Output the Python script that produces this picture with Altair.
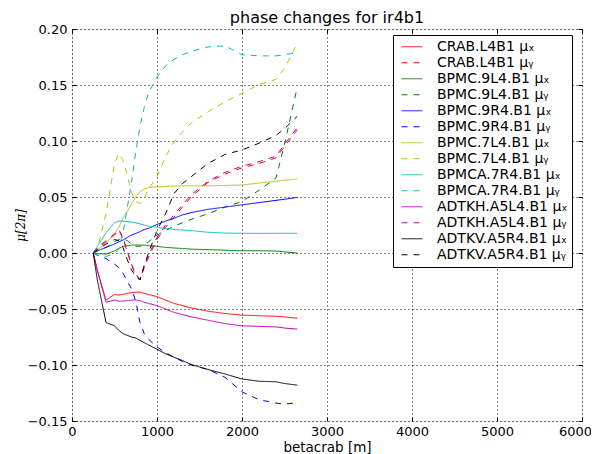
import altair as alt
import pandas as pd

# ---- data ----
X = [250, 300, 400, 500, 550, 600, 650, 700, 750, 800, 850, 900, 1000, 1100,
     1200, 1300, 1400, 1600, 1800, 2000, 2200, 2400, 2500, 2650]

crab_x = [0, -0.016, -0.042, -0.037, -0.0375, -0.037, -0.036, -0.0355, -0.035, -0.035, -0.036, -0.037,
          -0.039, -0.042, -0.045, -0.047, -0.049, -0.052, -0.054, -0.0555, -0.056, -0.0565, -0.057, -0.0583]
crab_y = [0, 0.004, 0.01, 0.016, 0.02, 0.013, 0.001, -0.011, -0.02, -0.024, -0.013, -0.004,
          0.012, 0.023, 0.032, 0.041, 0.05, 0.063, 0.0705, 0.076, 0.08, 0.085, 0.095, 0.11]
bpmc9l4_x = [0, -0.0005, -0.001, 0.002, 0.004, 0.006, 0.0065, 0.007, 0.0072, 0.0071, 0.007, 0.0065,
             0.006, 0.005, 0.0045, 0.004, 0.0035, 0.003, 0.0025, 0.002, 0.002, 0.0018, 0.001, 0.0]
bpmc9l4_y = [0, 0.002, 0.005, 0.01, 0.012, 0.013, 0.011, 0.008, 0.006, 0.006, 0.007, 0.01,
             0.016, 0.02, 0.024, 0.027, 0.03, 0.035, 0.041, 0.046, 0.056, 0.067, 0.097, 0.148]
bpmc9r4_x = [0, 0.002, 0.005, 0.008, 0.010, 0.0115, 0.014, 0.016, 0.0175, 0.019, 0.021, 0.022,
             0.0255, 0.0285, 0.031, 0.034, 0.036, 0.039, 0.041, 0.043, 0.045, 0.047, 0.048, 0.0497]
bpmc9r4_y = [0, -0.002, -0.005, -0.01, -0.013, -0.018, -0.025, -0.032, -0.043, -0.062, -0.072, -0.077,
             -0.084, -0.089, -0.093, -0.097, -0.1, -0.104, -0.111, -0.124, -0.131, -0.134, -0.135, -0.1336]
bpmc7l4_x = [0, 0.003, 0.009, 0.017, 0.023, 0.031, 0.037, 0.044, 0.05, 0.055, 0.057, 0.0585,
             0.059, 0.0595, 0.0598, 0.06, 0.06, 0.06, 0.0603, 0.0607, 0.0625, 0.064, 0.065, 0.066]
bpmc7l4_y = [0, 0.004, 0.035, 0.08, 0.089, 0.083, 0.07, 0.054, 0.046, 0.044, 0.049, 0.057,
             0.068, 0.086, 0.099, 0.108, 0.116, 0.126, 0.135, 0.1425, 0.1505, 0.155, 0.165, 0.187]
bpmca7r4_x = [0, 0.006, 0.018, 0.027, 0.0285, 0.0285, 0.028, 0.0275, 0.027, 0.026, 0.025, 0.024,
              0.023, 0.022, 0.021, 0.0205, 0.02, 0.0185, 0.0178, 0.0176, 0.0175, 0.0176, 0.0176, 0.0176]
bpmca7r4_y = [0, -0.002, -0.003, -0.001, 0.004, 0.018, 0.04, 0.063, 0.09, 0.113, 0.13, 0.143,
              0.157, 0.167, 0.173, 0.177, 0.18, 0.184, 0.185, 0.177, 0.176, 0.176, 0.177, 0.179]
adtkh_x = [0, -0.016, -0.044, -0.042, -0.043, -0.043, -0.0425, -0.042, -0.042, -0.0425, -0.044, -0.045,
           -0.047, -0.05, -0.053, -0.055, -0.057, -0.06, -0.063, -0.065, -0.0655, -0.066, -0.067, -0.068]
adtkh_y = [0, 0.005, 0.011, 0.017, 0.021, 0.014, 0.002, -0.01, -0.019, -0.0235, -0.012, -0.002,
           0.014, 0.025, 0.034, 0.043, 0.052, 0.064, 0.072, 0.0775, 0.0815, 0.0865, 0.097, 0.112]
adtkv_x = [0, -0.025, -0.062, -0.065, -0.069, -0.072, -0.0735, -0.075, -0.076, -0.078, -0.08, -0.082,
           -0.086, -0.09, -0.093, -0.096, -0.0995, -0.104, -0.108, -0.1125, -0.1145, -0.115, -0.1165, -0.118]
adtkv_y = [0, 0.003, 0.008, 0.012, 0.011, 0.005, -0.006, -0.015, -0.021, -0.024, -0.011, 0.0,
           0.02, 0.035, 0.053, 0.062, 0.068, 0.08, 0.088, 0.092, 0.098, 0.105, 0.111, 0.122]

labels = [
    "CRAB.L4B1 μₓ", "CRAB.L4B1 μᵧ",
    "BPMC.9L4.B1 μₓ", "BPMC.9L4.B1 μᵧ",
    "BPMC.9R4.B1 μₓ", "BPMC.9R4.B1 μᵧ",
    "BPMC.7L4.B1 μₓ", "BPMC.7L4.B1 μᵧ",
    "BPMCA.7R4.B1 μₓ", "BPMCA.7R4.B1 μᵧ",
    "ADTKH.A5L4.B1 μₓ", "ADTKH.A5L4.B1 μᵧ",
    "ADTKV.A5R4.B1 μₓ", "ADTKV.A5R4.B1 μᵧ",
]
series = [crab_x, crab_y, bpmc9l4_x, bpmc9l4_y, bpmc9r4_x, bpmc9r4_y,
          bpmc7l4_x, bpmc7l4_y, bpmca7r4_x, bpmca7r4_y, adtkh_x, adtkh_y, adtkv_x, adtkv_y]
colors = ["#ff0000", "#ff0000", "#008000", "#008000", "#0000ff", "#0000ff",
          "#bfbf00", "#bfbf00", "#00bfbf", "#00bfbf", "#bf00bf", "#bf00bf", "#000000", "#000000"]
dashes = [[1, 0], [6, 6]] * 7

x_ticks = [0, 1000, 2000, 3000, 4000, 5000, 6000]
y_ticks = [-0.15, -0.10, -0.05, 0.0, 0.05, 0.10, 0.15, 0.20]

rows = []
for i, (lab, vals) in enumerate(zip(labels, series)):
    for xv, yv in zip(X, vals):
        rows.append({"series": lab, "order": i, "x": xv, "y": yv})
df = pd.DataFrame(rows)

FONT = "DejaVu Sans"
xscale = alt.Scale(domain=[0, 6000], nice=False)
yscale = alt.Scale(domain=[-0.15, 0.20], nice=False, zero=False)

leg = alt.Legend(
    title=None, orient="none", legendX=321, legendY=6, direction="vertical",
    symbolType="stroke", symbolSize=441, symbolStrokeWidth=1, symbolOffset=4,
    labelFontSize=14, labelFont=FONT, labelOffset=14, labelLimit=0,
    padding=4, rowPadding=0, clipHeight=15.5, strokeColor="black", fillColor="white",
    cornerRadius=0,
)

tick_style = dict(ticks=True, tickSize=4, tickColor="black", tickWidth=1, offset=-4, domain=False)

lines = alt.Chart(df).mark_line(strokeWidth=1, clip=True).encode(
    x=alt.X("x:Q", scale=xscale,
            axis=alt.Axis(values=x_ticks, format="d", title="betacrab [m]", orient="bottom",
                          grid=True, gridDash=[1, 3], gridColor="black", gridOpacity=1,
                          labelPadding=4, labelFlush=False,
                          labelOffset={"condition": {"test": "datum.value == 6000", "value": -7}, "value": 0},
                          labelFontSize=13, labelFont=FONT, labelColor="black",
                          titleFontSize=13.5, titleFont=FONT, titleFontWeight="normal",
                          titleColor="black", titlePadding=2, **tick_style)),
    y=alt.Y("y:Q", scale=yscale,
            axis=alt.Axis(values=y_ticks, title="μ[2π]", orient="left",
                          labelExpr="replace(format(datum.value, '.2f'), '-', '\u2212')",
                          grid=True, gridDash=[1, 3], gridColor="black", gridOpacity=1,
                          labelPadding=5, labelFlush=False,
                          labelFontSize=13, labelFont=FONT, labelColor="black",
                          titleFontSize=12, titleFont="DejaVu Serif", titleFontStyle="italic",
                          titleFontWeight="normal", titleColor="black", titlePadding=0,
                          **tick_style)),
    color=alt.Color("series:N", scale=alt.Scale(domain=labels, range=colors), legend=leg),
    strokeDash=alt.StrokeDash("series:N", scale=alt.Scale(domain=labels, range=dashes), legend=leg),
    order=alt.Order("order:Q"),
)

frame = alt.Chart(df).mark_line(strokeOpacity=0, clip=True).encode(
    x=alt.X("x:Q", scale=xscale,
            axis=alt.Axis(values=x_ticks, orient="top", title=None, labels=False, grid=False,
                          **tick_style)),
    y=alt.Y("y:Q", scale=yscale,
            axis=alt.Axis(values=y_ticks, orient="right", title=None, labels=False, grid=False,
                          **tick_style)),
    detail="series:N",
)

chart = alt.layer(lines, frame).resolve_axis(x="independent", y="independent").properties(
    width=510, height=392,
    title=alt.TitleParams("phase changes for ir4b1", fontSize=16, font=FONT,
                          fontWeight="normal", anchor="middle", color="black",
                          frame="group", offset=4, dy=7),
    padding={"left": 64, "top": 21, "right": 9, "bottom": 33},
    autosize="none",
).configure_view(stroke="black", strokeWidth=1).configure(background="white")

chart.save("out.html", embed_options={"renderer": "svg", "actions": False})
